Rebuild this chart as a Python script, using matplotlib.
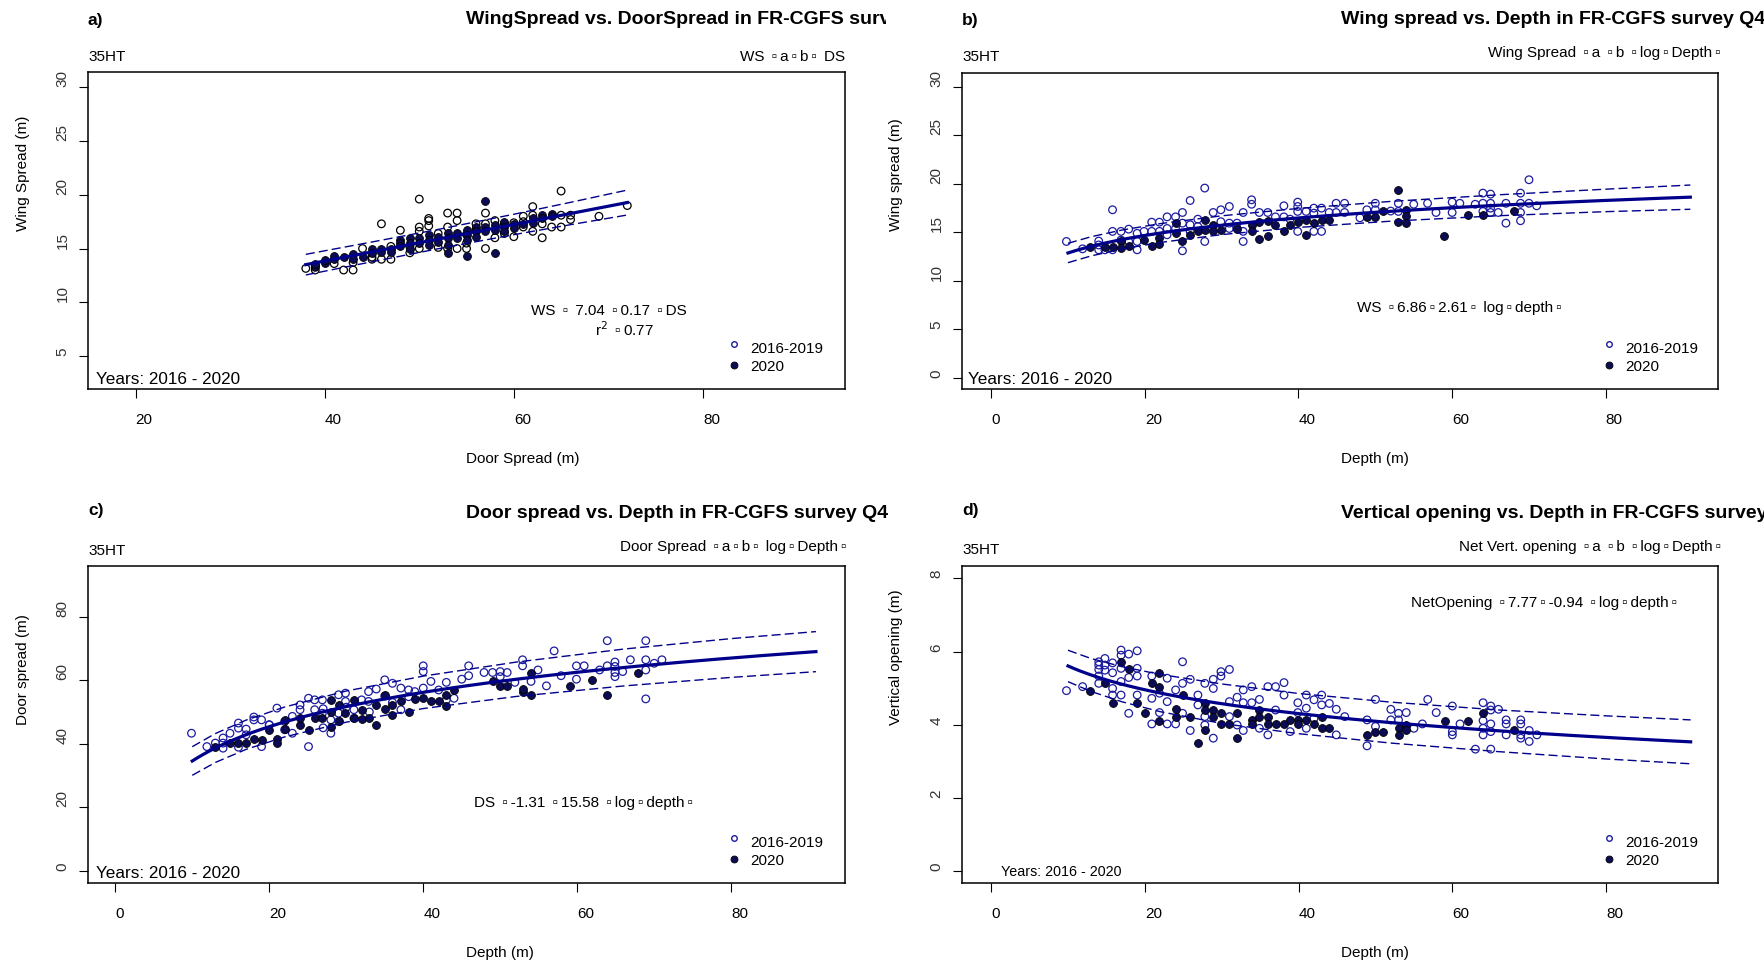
import numpy as np
import matplotlib.pyplot as plt
from matplotlib.lines import Line2D
from matplotlib.transforms import Bbox, TransformedBbox

plt.rcParams.update({
    "font.family": ["Liberation Sans", "DejaVu Sans"],
    "font.size": 11,
})

# ---------------------------------------------------------------
# data
# ---------------------------------------------------------------

# a) wing spread vs door spread (DS, WS)
a_old = [(38, 13.15), (39, 13.25), (39, 13.0), (41, 13.6), (42, 13.0), (43, 13.0),
         (43, 13.7), (44, 15.0), (45, 14.0), (45, 14.2), (46, 17.3), (46, 14.0),
         (47, 14.0), (47, 15.2), (48, 16.7), (49, 15.2), (49, 14.6), (50, 19.6),
         (50, 17.0), (50, 16.6), (50, 15.0), (51, 17.8), (51, 17.6), (51, 17.1),
         (52, 16.4), (52, 15.1), (53, 18.3), (53, 17.0), (53, 15.0), (54, 18.3),
         (54, 17.6), (54, 15.0), (55, 15.0), (55, 15.5), (55, 16.3), (56, 17.3),
         (56, 16.8), (57, 18.3), (57, 17.3), (57, 15.0), (58, 16.0), (58, 17.6),
         (59, 16.4), (59, 17.3), (60, 17.4), (60, 16.1), (61, 18.0), (61, 17.5),
         (61, 17.0), (62, 18.9), (62, 18.1), (62, 16.6), (63, 17.3), (63, 16.0),
         (64, 17.0), (65, 20.35), (65, 18.1), (65, 17.0), (66, 18.1), (66, 17.7),
         (69, 18.0), (72, 19.0)]
a_new = [(39, 13.4), (39, 13.6), (40, 13.7), (40, 13.9), (41, 14.0), (41, 14.3),
         (42, 14.2), (43, 14.5), (43, 14.0), (44, 14.2), (45, 15.0), (45, 14.55),
         (46, 15.0), (46, 14.7), (47, 15.0), (47, 14.7), (48, 15.8), (48, 15.5),
         (48, 15.2), (49, 15.95), (49, 15.5), (49, 15.0), (50, 15.95), (50, 15.5),
         (51, 16.25), (51, 15.8), (51, 15.3), (52, 16.1), (52, 15.6), (53, 16.4),
         (53, 15.95), (53, 15.3), (53, 14.6), (54, 16.4), (54, 15.95), (55, 16.7),
         (55, 16.25), (55, 15.8), (55, 14.3), (56, 17.0), (56, 16.6), (56, 16.1),
         (57, 19.45), (57, 17.0), (57, 16.6), (58, 17.2), (58, 16.7), (58, 14.6),
         (59, 17.5), (59, 17.0), (59, 16.6), (60, 17.3), (60, 16.9), (61, 17.3),
         (62, 17.8), (62, 17.4), (63, 18.1), (63, 17.8), (64, 18.2), (64, 18.0)]

# b) wing spread vs depth
b_old = [(9.8, 14.06), (11.9, 13.3), (14.0, 14.1), (14.0, 13.7), (14.0, 13.2), (14.8, 13.2),
         (15.8, 17.33), (15.8, 15.1), (15.8, 13.2), (16.9, 15.1), (16.9, 14.2), (17.9, 15.33),
         (17.9, 14.06), (19.0, 14.9), (19.0, 14.06), (19.0, 13.2), (19.9, 15.1), (20.9, 16.05),
         (20.9, 15.1), (21.9, 16.05), (21.9, 15.1), (22.9, 16.6), (22.9, 15.4), (22.9, 14.75),
         (24.0, 16.6), (24.0, 15.4), (24.9, 17.05), (24.9, 15.95), (24.9, 13.1), (25.9, 18.29),
         (25.9, 15.78), (25.9, 15.1), (26.9, 16.36), (26.9, 15.6), (27.8, 19.57), (27.8, 14.06),
         (28.9, 17.05), (29.9, 17.33), (29.9, 16.1), (31.0, 17.67), (31.0, 15.95), (31.0, 15.4),
         (32.0, 15.95), (32.0, 15.4), (32.8, 17.05), (32.8, 14.06), (32.8, 15.1), (33.9, 18.36),
         (33.9, 17.9), (34.9, 17.05), (36.0, 17.05), (37.0, 16.6), (38.1, 17.74), (38.1, 16.6),
         (38.9, 16.36), (39.9, 18.12), (39.9, 17.67), (39.9, 17.16), (39.9, 15.1), (41.0, 17.16),
         (42.0, 17.5), (42.0, 16.98), (42.0, 15.1), (43.0, 17.5), (43.0, 15.1), (44.0, 17.05),
         (44.9, 18.0), (44.9, 17.05), (46.0, 18.0), (46.0, 17.05), (48.0, 16.5), (48.9, 17.33),
         (50.0, 18.0), (50.0, 17.33), (52.0, 17.2), (53.0, 18.0), (53.0, 17.16), (55.0, 17.9),
         (56.8, 18.0), (57.9, 17.05), (60.0, 18.12), (60.0, 17.05), (61.0, 18.0), (63.0, 17.9),
         (64.0, 19.05), (64.0, 18.0), (64.0, 17.16), (65.0, 18.95), (65.0, 18.0), (65.0, 17.5),
         (65.0, 17.05), (66.0, 17.05), (67.0, 18.0), (67.0, 15.95), (68.9, 19.05), (68.9, 18.0),
         (68.9, 17.05), (68.9, 16.2), (70.0, 20.43), (70.0, 18.0), (71.0, 17.74)]
b_new = [(12.9, 13.5), (14.8, 13.5), (15.8, 13.5), (16.9, 14.06), (16.9, 13.37), (17.9, 13.6),
         (19.9, 14.23), (20.9, 13.6), (21.9, 14.4), (21.9, 13.8), (24.0, 15.95), (24.0, 14.9),
         (24.9, 14.06), (25.9, 14.75), (26.9, 15.1), (27.8, 16.3), (27.8, 15.26), (28.9, 15.78),
         (28.9, 15.1), (29.9, 15.26), (32.0, 15.33), (33.9, 15.78), (33.9, 15.1), (34.9, 16.1),
         (34.9, 14.33), (36.0, 16.2), (36.0, 14.64), (37.0, 15.78), (38.1, 15.16), (38.9, 15.78),
         (39.9, 16.1), (41.0, 16.3), (41.0, 14.68), (42.0, 16.0), (43.0, 16.3), (44.0, 16.3),
         (48.9, 16.6), (50.0, 16.6), (51.0, 17.2), (53.0, 19.39), (53.0, 16.1), (54.0, 17.33),
         (54.0, 16.64), (54.0, 15.95), (59.0, 14.64), (62.1, 16.81), (64.0, 16.81), (68.0, 17.16)]

# c) door spread vs depth
c_old = [(9.9, 43.3), (11.9, 39.1), (13.0, 40.2), (14.0, 41.8), (14.0, 40.2), (14.0, 38.6),
         (14.9, 43.3), (16.0, 46.5), (16.0, 44.9), (16.0, 38.9), (17.0, 44.6), (17.0, 42.8),
         (18.0, 48.4), (18.0, 47.5), (19.0, 47.5), (19.0, 39.1), (20.0, 45.9), (20.0, 46.0),
         (21.0, 51.2), (22.0, 44.4), (22.0, 47.0), (23.0, 48.6), (23.0, 43.3), (24.0, 52.2),
         (24.0, 50.7), (25.1, 54.3), (25.1, 39.1), (25.9, 53.8), (25.9, 50.7), (26.9, 53.8),
         (26.9, 49.6), (27.0, 51.0), (27.0, 45.0), (28.0, 43.3), (28.0, 47.5), (29.0, 55.4),
         (29.0, 49.6), (29.0, 47.0), (29.9, 55.9), (29.9, 53.3), (30.0, 51.5), (31.0, 50.7),
         (31.0, 48.0), (32.0, 53.8), (32.9, 56.4), (32.9, 53.3), (33.0, 50.0), (33.9, 57.2),
         (35.0, 60.1), (35.0, 55.0), (36.0, 59.0), (36.0, 53.0), (37.1, 57.5), (37.1, 50.7),
         (38.1, 56.9), (38.1, 54.8), (38.9, 56.4), (40.0, 64.5), (40.0, 62.7), (40.0, 57.5),
         (41.0, 59.6), (42.0, 56.9), (43.0, 59.3), (43.0, 53.8), (44.0, 54.3), (45.0, 60.3),
         (45.9, 64.5), (45.9, 61.4), (47.9, 62.4), (49.0, 62.4), (50.0, 62.7), (50.0, 61.1),
         (50.9, 62.4), (51.9, 59.3), (52.9, 66.4), (52.9, 64.5), (54.0, 59.6), (54.9, 63.2),
         (56.0, 58.2), (57.0, 69.2), (57.9, 61.4), (59.9, 64.5), (59.9, 60.3), (60.9, 64.5),
         (62.9, 63.2), (63.9, 72.4), (63.9, 64.5), (64.9, 65.7), (64.9, 64.3), (64.9, 62.4),
         (64.9, 61.1), (65.9, 62.7), (66.9, 66.4), (68.9, 72.4), (68.9, 66.4), (68.9, 63.2),
         (68.9, 54.1), (70.0, 65.3), (71.0, 66.4)]
c_new = [(13.0, 38.9), (14.9, 40.2), (16.0, 40.2), (17.0, 40.2), (18.0, 41.4), (19.0, 41.2),
         (20.0, 44.4), (21.0, 41.4), (21.0, 40.2), (22.0, 47.5), (22.0, 44.6), (24.0, 45.9),
         (24.0, 48.2), (25.1, 44.4), (25.9, 48.0), (26.9, 48.0), (28.0, 53.8), (28.0, 50.1),
         (28.0, 45.4), (29.0, 52.2), (29.0, 47.3), (29.9, 49.8), (31.0, 53.8), (31.0, 48.0),
         (32.0, 50.7), (32.0, 47.7), (32.9, 48.0), (33.9, 52.2), (33.9, 45.9), (35.0, 55.4),
         (35.0, 50.9), (36.0, 52.2), (36.0, 49.1), (37.1, 53.5), (38.1, 50.1), (38.9, 54.0),
         (40.0, 54.3), (41.0, 53.5), (42.0, 53.5), (43.0, 55.4), (43.0, 51.9), (44.0, 56.9),
         (49.0, 59.6), (50.0, 58.2), (50.9, 58.2), (52.9, 56.4), (52.9, 57.2), (54.0, 62.4),
         (54.0, 55.4), (59.0, 58.2), (61.9, 60.1), (63.9, 55.2), (67.9, 62.4)]

# d) vertical opening vs depth
d_old = [(9.8, 4.93), (11.9, 5.04), (14.0, 5.72), (14.0, 5.63), (14.0, 5.51), (14.0, 5.33),
         (14.0, 5.13), (14.8, 5.81), (14.8, 5.63), (14.8, 5.49), (15.8, 5.69), (15.8, 5.42),
         (15.8, 4.99), (15.8, 4.81), (16.9, 6.04), (16.9, 5.90), (16.9, 5.54), (16.9, 5.18),
         (16.9, 4.81), (17.9, 5.93), (17.9, 5.29), (17.9, 4.31), (19.0, 6.02), (19.0, 5.54),
         (19.0, 5.33), (19.0, 4.81), (20.9, 5.33), (20.9, 4.72), (20.9, 4.02), (21.9, 4.33),
         (21.9, 4.86), (22.9, 5.27), (22.9, 4.63), (22.9, 4.02), (24.0, 4.95), (24.0, 4.02),
         (24.9, 5.72), (24.9, 5.13), (24.9, 4.31), (25.9, 5.24), (25.9, 3.84), (26.9, 4.81),
         (26.9, 4.54), (27.8, 5.13), (27.8, 4.22), (27.8, 3.99), (28.9, 5.24), (28.9, 4.99),
         (28.9, 3.63), (29.9, 5.45), (29.9, 5.33), (31.0, 5.51), (31.0, 4.63), (31.0, 4.22),
         (32.0, 4.75), (32.0, 3.99), (32.8, 4.95), (32.8, 4.60), (32.8, 3.84), (33.9, 5.04),
         (33.9, 4.60), (34.9, 4.69), (34.9, 3.90), (36.0, 5.04), (36.0, 3.72), (37.0, 5.04),
         (37.0, 4.40), (38.1, 5.15), (38.1, 4.81), (38.9, 3.81), (39.9, 4.60), (39.9, 4.33),
         (41.0, 4.81), (41.0, 4.45), (41.0, 3.90), (42.0, 4.68), (42.0, 4.17), (43.0, 4.81),
         (43.0, 4.54), (44.0, 4.58), (44.9, 4.42), (44.9, 3.72), (46.0, 4.22), (48.9, 4.13),
         (48.9, 3.42), (50.0, 4.69), (50.0, 3.95), (52.0, 4.42), (52.0, 4.13), (53.0, 4.31),
         (53.0, 4.13), (54.0, 4.33), (55.0, 3.90), (56.1, 4.02), (56.8, 4.69), (57.9, 4.33),
         (60.0, 4.51), (60.0, 3.81), (60.0, 3.72), (61.0, 4.02), (63.0, 3.33), (64.0, 4.60),
         (64.0, 4.11), (64.0, 3.90), (64.0, 3.72), (65.0, 4.51), (65.0, 4.40), (65.0, 4.02),
         (65.0, 3.81), (65.0, 3.33), (66.0, 4.42), (67.0, 4.13), (67.0, 4.02), (67.0, 3.72),
         (68.9, 4.13), (68.9, 4.02), (68.9, 3.72), (68.9, 3.63), (70.0, 3.84), (70.0, 3.54),
         (71.0, 3.72)]
d_new = [(12.9, 4.93), (14.8, 5.13), (15.8, 4.60), (16.9, 5.72), (17.9, 5.51), (19.0, 4.60),
         (20.0, 4.31), (20.9, 5.13), (21.9, 5.42), (21.9, 5.04), (21.9, 4.11), (24.0, 4.42),
         (24.0, 4.22), (24.9, 4.81), (25.9, 4.22), (26.9, 3.51), (27.8, 4.60), (27.8, 4.40),
         (27.8, 3.86), (28.9, 4.40), (28.9, 4.22), (29.9, 4.31), (29.9, 4.02), (31.0, 4.02),
         (32.0, 4.31), (32.0, 3.63), (33.9, 4.13), (33.9, 4.02), (34.9, 4.40), (34.9, 4.22),
         (36.0, 4.22), (36.0, 4.02), (37.0, 4.02), (38.1, 4.02), (38.9, 4.13), (39.9, 4.13),
         (39.9, 4.02), (41.0, 4.13), (42.0, 4.02), (43.0, 4.22), (43.0, 3.90), (44.0, 3.90),
         (48.9, 3.72), (50.0, 3.81), (51.0, 3.81), (53.0, 3.90), (53.0, 3.72), (54.0, 3.99),
         (54.0, 3.86), (59.0, 4.11), (62.1, 4.11), (64.0, 4.31), (68.0, 3.84)]

# fitted models (coefficients printed on the panels) and band half-widths
a_coef = (7.04, 0.17)
b_coef = (6.86, 2.61)
c_coef = (-1.31, 15.58)
d_coef = (7.77, -0.94)

a_band_x = [38, 45, 52, 60, 66, 72]
a_band_hw = [0.96, 0.92, 0.90, 0.95, 1.04, 1.16]
band_x = [10, 13, 17, 22, 30, 40, 52, 66, 80, 91]
b_band_hw = [1.0, 0.99, 0.98, 0.97, 0.97, 0.98, 1.02, 1.08, 1.16, 1.25]
c_band_hw = [4.5, 4.55, 4.6, 4.7, 4.9, 5.1, 5.4, 5.8, 6.1, 6.3]
d_band_hw = [0.43, 0.45, 0.48, 0.51, 0.54, 0.55, 0.56, 0.57, 0.59, 0.6]

legend_labels = ["2016-2019", "2020"]

# ---------------------------------------------------------------
# layout helpers (pixel coordinates, origin top-left)
# ---------------------------------------------------------------

W, H = 1764, 965
BLUE = "#1c1ca0"
NAVY = "#0c0c55"
LINE = "#00008b"
SQ = "\u2009\u25ab\u2009"   # missing-glyph boxes as they appear in the original

fig = plt.figure(figsize=(W / 100, H / 100), dpi=100)


def fx(x):
    return x / W


def fy(y):
    return 1 - y / H


def put(x, y, s, **kw):
    kw.setdefault("ha", "left")
    kw.setdefault("va", "center")
    return fig.text(fx(x), fy(y), s, **kw)


def legend(x, y):
    fig.add_artist(Line2D([fx(x)], [fy(y)], marker="o", ms=4, mfc="none",
                          mec=BLUE, mew=1.0, transform=fig.transFigure))
    fig.add_artist(Line2D([fx(x)], [fy(y + 21)], marker="o", ms=5, mfc=NAVY,
                          mec="black", mew=0.6, transform=fig.transFigure))
    put(x + 16, y + 5, legend_labels[0], fontsize=11)
    put(x + 16, y + 23, legend_labels[1], fontsize=11)


def panel(box, xlim, ylim, xt, yt, old, new, open_col):
    x0, y0, x1, y1 = box
    ax = fig.add_axes([fx(x0), fy(y1), (x1 - x0) / W, (y1 - y0) / H])
    ax.set_xlim(*xlim)
    ax.set_ylim(*ylim)
    ox, oy = zip(*old)
    nx, ny = zip(*new)
    ax.scatter(ox, oy, s=30, facecolors="none", edgecolors=open_col,
               linewidths=0.9, zorder=2)
    ax.scatter(nx, ny, s=32, c=NAVY, edgecolors="black", linewidths=0.6, zorder=3)
    ax.set_xticks(xt)
    ax.set_xticklabels([str(v) for v in xt], ha="left")
    ax.set_yticks(yt)
    ax.set_yticklabels([str(v) for v in yt], rotation=90, rotation_mode="anchor",
                       ha="left", va="center", color="#333333")
    ax.tick_params(axis="both", direction="out", length=6.5, width=0.8)
    ax.tick_params(axis="x", pad=10.5)
    ax.tick_params(axis="y", pad=12)
    for sp in ax.spines.values():
        sp.set_linewidth(1.1)
    return ax


def fit_lines(ax, coef, xmin, xmax, bx, hw, log=True):
    xs = np.linspace(xmin, xmax, 200)
    f = (lambda v: coef[0] + coef[1] * np.log(v)) if log else (lambda v: coef[0] + coef[1] * v)
    ax.plot(xs, f(xs), color=LINE, lw=2.3, zorder=4)
    bx = np.array(bx)
    hw = np.array(hw)
    ax.plot(bx, f(bx) + hw, color=LINE, lw=1.0, ls=(0, (6.5, 3)), zorder=4)
    ax.plot(bx, f(bx) - hw, color=LINE, lw=1.0, ls=(0, (6.5, 3)), zorder=4)


def title(x, y, s, clip_right):
    t = put(x, y, s, fontsize=14.0, fontweight="bold")
    t.set_clip_box(TransformedBbox(Bbox.from_extents(0, 0, fx(clip_right), 1),
                                   fig.transFigure))
    t.set_clip_on(True)


# -------------------------------------------------
# a) WingSpread vs DoorSpread
# -------------------------------------------------
ax = panel((88.3, 72.3, 844.8, 389.3), (15.0, 95.0), (1.9, 31.4),
           [20, 40, 60, 80], [5, 10, 15, 20, 25, 30], a_old, a_new, "black")
fit_lines(ax, a_coef, 38, 72, a_band_x, a_band_hw, log=False)
put(88, 20, "a)", fontsize=12.5, fontweight="bold")
title(466, 20, "WingSpread vs. DoorSpread in FR-CGFS survey Q4", 886)
put(88, 57, "35HT")
put(845, 57, f"WS {SQ}a{SQ}b{SQ} DS", ha="right")
put(531, 311, f"WS {SQ} 7.04 {SQ}0.17 {SQ}DS")
put(595, 330, f"r$^2$ {SQ}0.77")
legend(734, 344)
put(95.6, 379, "Years: 2016 - 2020", fontsize=12.3)
put(466, 459, "Door Spread (m)")
put(22.5, 231, "Wing Spread (m)", rotation=90, rotation_mode="anchor")

# -------------------------------------------------
# b) Wing spread vs Depth
# -------------------------------------------------
ax = panel((962.4, 72.5, 1718.0, 389.3), (-3.74, 94.6), (-1.2, 31.5),
           [0, 20, 40, 60, 80], [0, 5, 10, 15, 20, 25, 30], b_old, b_new, BLUE)
fit_lines(ax, b_coef, 10, 91, band_x, b_band_hw)
put(962, 20, "b)", fontsize=12.5, fontweight="bold")
title(1341, 20, "Wing spread vs. Depth in FR-CGFS survey Q4", W)
put(962, 57, "35HT")
put(1724, 53, f"Wing Spread {SQ}a {SQ}b {SQ}log{SQ}Depth{SQ}", ha="right")
put(1357, 308, f"WS {SQ}6.86{SQ}2.61{SQ} log{SQ}depth{SQ}")
legend(1609, 344)
put(967.5, 379, "Years: 2016 - 2020", fontsize=12.3)
put(1341, 459, "Depth (m)")
put(896, 231, "Wing spread (m)", rotation=90, rotation_mode="anchor")

# -------------------------------------------------
# c) Door spread vs Depth
# -------------------------------------------------
ax = panel((88.3, 566, 844.8, 883.3), (-3.5, 94.75), (-3.9, 95.9),
           [0, 20, 40, 60, 80], [0, 20, 40, 60, 80], c_old, c_new, BLUE)
fit_lines(ax, c_coef, 10, 91, band_x, c_band_hw)
put(88, 511, "c)", fontsize=12.5, fontweight="bold")
title(466, 513, "Door spread vs. Depth in FR-CGFS survey Q4", 900)
put(88, 551, "35HT")
put(849, 547, f"Door Spread {SQ}a{SQ}b{SQ} log{SQ}Depth{SQ}", ha="right")
put(474, 803, f"DS {SQ}-1.31 {SQ}15.58 {SQ}log{SQ}depth{SQ}")
legend(734, 838)
put(95.6, 873, "Years: 2016 - 2020", fontsize=12.3)
put(466, 953, "Depth (m)")
put(22.5, 725, "Door spread (m)", rotation=90, rotation_mode="anchor")

# -------------------------------------------------
# d) Vertical opening vs Depth
# -------------------------------------------------
ax = panel((962.4, 566, 1718.3, 883.3), (-3.74, 94.6), (-0.34, 8.34),
           [0, 20, 40, 60, 80], [0, 2, 4, 6, 8], d_old, d_new, BLUE)
fit_lines(ax, d_coef, 10, 91, band_x, d_band_hw)
put(962, 511, "d)", fontsize=12.5, fontweight="bold")
title(1341, 513, "Vertical opening vs. Depth in FR-CGFS survey Q4", W)
put(962, 550, "35HT")
put(1724, 547, f"Net Vert. opening {SQ}a {SQ}b {SQ}log{SQ}Depth{SQ}", ha="right")
put(1411, 603, f"NetOpening {SQ}7.77{SQ}-0.94 {SQ}log{SQ}depth{SQ}")
legend(1609, 838)
put(1001, 872, "Years: 2016 - 2020", fontsize=10.3)
put(1341, 953, "Depth (m)")
put(896, 725, "Vertical opening (m)", rotation=90, rotation_mode="anchor")

fig.savefig("out.png", dpi=100)
